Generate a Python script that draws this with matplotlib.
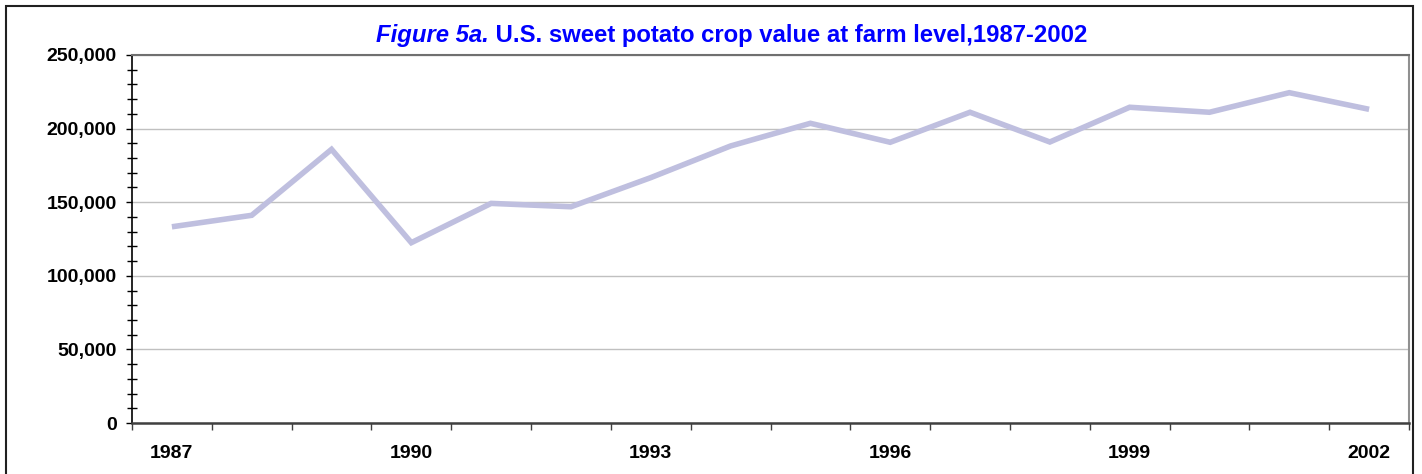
import matplotlib
matplotlib.use("Agg")
import matplotlib.pyplot as plt
import matplotlib.ticker as mticker
from matplotlib.patches import Rectangle

years = [1987, 1988, 1989, 1990, 1991, 1992, 1993, 1994,
         1995, 1996, 1997, 1998, 1999, 2000, 2001, 2002]
crop_value = [133300, 141100, 185900, 122500, 149200, 146900, 166700, 188200,
              203600, 190700, 211100, 190900, 214500, 211100, 224400, 213100]
label_years = [1987, 1990, 1993, 1996, 1999, 2002]
title_part1 = "Figure 5a."
title_part2 = " U.S. sweet potato crop value at farm level,1987-2002"

plt.rcParams['font.family'] = ['Liberation Sans', 'DejaVu Sans']

W, H = 1422, 474
fig = plt.figure(figsize=(W / 100, H / 100), dpi=100)
ax = fig.add_axes([132 / W, 1 - 423 / H, (1409 - 132) / W, (423 - 55) / H])

xs = list(range(len(years)))
ax.plot(xs, crop_value, color='#BFBFDF', lw=4.0, solid_joinstyle='miter',
        solid_capstyle='butt', zorder=3)

ax.set_xlim(-0.5, len(years) - 0.5)
ax.set_ylim(0, 250000)

# y axis
ax.yaxis.set_major_locator(mticker.MultipleLocator(50000))
ax.yaxis.set_minor_locator(mticker.MultipleLocator(10000))
ax.yaxis.set_major_formatter(mticker.FuncFormatter(lambda v, p: f"{int(v):,}"))
ax.tick_params(axis='y', which='major', direction='out', length=4, width=1,
               pad=7, labelsize=14, colors='black')
ax.tick_params(axis='y', which='minor', direction='inout', length=7, width=1, colors='black')
for t in ax.get_yticklabels():
    t.set_fontweight('bold')
ax.grid(axis='y', which='major', color='#C0C0C0', lw=1)
ax.set_axisbelow(True)

# x axis: labels at category centres, ticks at boundaries
ax.set_xticks([years.index(y) for y in label_years])
ax.set_xticklabels([str(y) for y in label_years], fontweight='bold', fontsize=14)
ax.set_xticks([i - 0.5 for i in range(len(years) + 1)], minor=True)
ax.tick_params(axis='x', which='major', length=0, pad=16, colors='black')
ax.tick_params(axis='x', which='minor', direction='out', length=5, width=1, color='#404040')

ax.spines['left'].set_color('black')
ax.spines['left'].set_linewidth(1.2)
ax.spines['bottom'].set_color('#404040')
ax.spines['bottom'].set_linewidth(1.8)
ax.spines['top'].set_color('#707070')
ax.spines['top'].set_linewidth(1.5)
ax.spines['right'].set_color('#909090')
ax.spines['right'].set_linewidth(1.5)

# title in two parts
fig.canvas.draw()
renderer = fig.canvas.get_renderer()
t1 = fig.text(0, 1 - 42 / H, title_part1, color='#0000FF', fontsize=17.2,
              fontstyle='italic', fontweight='bold', ha='left', va='baseline')
t2 = fig.text(0, 1 - 42 / H, title_part2, color='#0000FF', fontsize=17.2,
              fontweight='bold', ha='left', va='baseline')
w1 = t1.get_window_extent(renderer).width
w2 = t2.get_window_extent(renderer).width
total = w1 + w2
cx = 732
x0 = cx - total / 2
t1.set_x(x0 / W)
t2.set_x((x0 + w1) / W)

# outer border
fig.patches.append(Rectangle((5.5 / W, -0.1), (1413 - 5.5) / W, 1.1 - 6 / H,
                             transform=fig.transFigure, fill=False,
                             edgecolor='#202020', lw=1.5))

fig.savefig('out.png', dpi=100)
